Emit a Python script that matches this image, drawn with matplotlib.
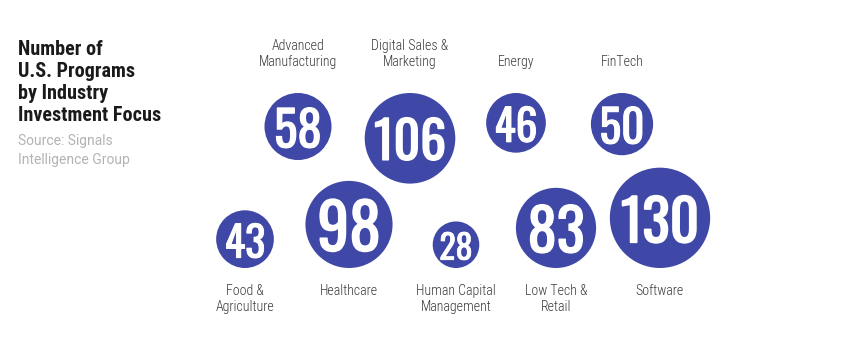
import matplotlib.pyplot as plt
import matplotlib.patheffects as pe
from matplotlib.patches import Circle
import numpy as np

top_labels = ["Advanced\nManufacturing", "Digital Sales &\nMarketing", "Energy", "FinTech"]
top_values = [58, 106, 46, 50]
bottom_labels = ["Food &\nAgriculture", "Healthcare", "Human Capital\nManagement",
                 "Low Tech &\nRetail", "Software"]
bottom_values = [43, 98, 28, 83, 130]

BLUE = "#3f48a6"
COND = ["Roboto Condensed", "Barlow Condensed", "DejaVu Sans"]
DIGITS = ["Oswald", "Antonio", "Barlow Condensed", "DejaVu Sans"]

# layout (pixel coords)
top_x = [298, 410, 516, 622]
bottom_x = [245, 349, 456, 556, 660]
top_edge = 93
bottom_edge = 268
scale = 4.4  # radius per sqrt(value)

fig = plt.figure(figsize=(8.56, 3.59), dpi=100)
ax = fig.add_axes([0, 0, 1, 1])
ax.set_xlim(0, 856)
ax.set_ylim(359, 0)
ax.set_aspect("equal")
ax.axis("off")


def bubble(x, y, r, v):
    ax.add_patch(Circle((x, y), r, color=BLUE, lw=0))
    size = r * (0.82 if v >= 100 else 1.05)
    # Oswald only ships one weight here, so thicken the strokes a little
    ax.text(x, y + 1, str(v), ha="center", va="center_baseline", color="white",
            fontsize=size, fontweight="bold", family=DIGITS,
            path_effects=[pe.withStroke(linewidth=r / 42, foreground="white")])


for x, v, lab in zip(top_x, top_values, top_labels):
    r = scale * np.sqrt(v)
    bubble(x, top_edge + r, r, v)
    ax.text(x, 69, lab, ha="center", va="bottom", fontsize=10,
            color="#3a3a3a", family=COND, fontweight="light", linespacing=1.2)

for x, v, lab in zip(bottom_x, bottom_values, bottom_labels):
    r = scale * np.sqrt(v)
    bubble(x, bottom_edge - r, r, v)
    ax.text(x, 284, lab, ha="center", va="top", fontsize=10,
            color="#3a3a3a", family=COND, fontweight="light", linespacing=1.2)

ax.text(18, 40, "Number of\nU.S. Programs\nby Industry\nInvestment Focus",
        ha="left", va="top", fontsize=14.5, fontweight="bold",
        color="#1a1a1a", family=COND, linespacing=1.2)
ax.text(18, 134, "Source: Signals\nIntelligence Group", ha="left", va="top",
        fontsize=10, color="#b3b3b3", family=["Roboto", "DejaVu Sans"],
        linespacing=1.45)

fig.savefig("out.png", dpi=100)
